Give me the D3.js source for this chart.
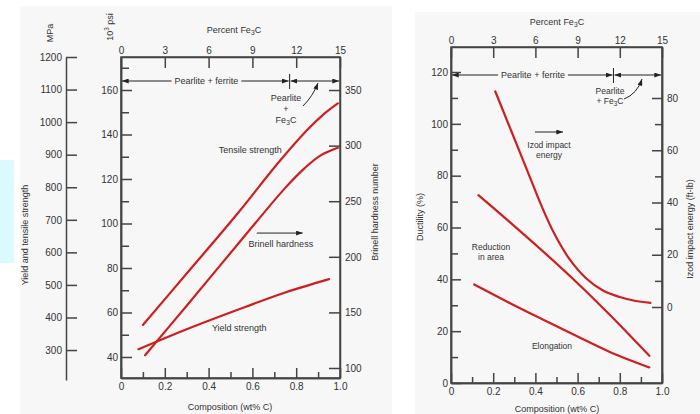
<!DOCTYPE html>
<html>
<head>
<meta charset="utf-8">
<script src="https://cdn.jsdelivr.net/npm/d3@7"></script>
<style>
body { margin: 0; background: #fff; }
svg { display: block; }
text { font-family: "Liberation Sans", Arial, sans-serif; fill: #333; }
</style>
</head>
<body>
<svg id="chart" width="700" height="414"></svg>
<script>
// tick values
var compMajor = [0, 0.2, 0.4, 0.6, 0.8, 1.0];
var compMinor = [0.1, 0.3, 0.5, 0.7, 0.9];
var feTicks = [0, 3, 6, 9, 12, 15];
var ksiMajor = [40, 60, 80, 100, 120, 140, 160];
var ksiMinor = [50, 70, 90, 110, 130, 150, 170];
var mpaTicks = [300, 400, 500, 600, 700, 800, 900, 1000, 1100, 1200];
var hbTicks = [100, 150, 200, 250, 300, 350];
var ductMajor = [0, 20, 40, 60, 80, 100, 120];
var ductMinor = [10, 30, 50, 70, 90, 110];
var izodMajor = [0, 20, 40, 60, 80];
var izodMinor = [10, 30, 50, 70];
var eutectoid = 0.77;

// left chart series (wt% C)
var tensileComp = [0.10, 0.30, 0.52, 0.72, 0.85, 0.93, 0.99];
var tensileKsi = [54.4, 77.5, 103, 127.5, 142, 149.5, 154];
var hardnessComp = [0.11, 0.30, 0.57, 0.75, 0.84, 0.91, 0.99];
var hardnessHB = [111.5, 156, 220, 262, 280, 291, 298];
var yieldComp = [0.08, 0.30, 0.57, 0.75, 0.95];
var yieldKsi = [43.5, 52.5, 62.6, 69, 75];

// right chart series
var izodComp = [0.21, 0.29, 0.37, 0.43, 0.49, 0.56, 0.64, 0.72, 0.80, 0.87, 0.945];
var izodFtlb = [82.5, 66.5, 50.5, 38.5, 28, 18.5, 11, 6.3, 3.8, 2.4, 1.6];
var areaComp = [0.13, 0.28, 0.44, 0.60, 0.75, 0.94];
var areaPct = [72.5, 62, 50.5, 38.5, 26.5, 10.5];
var elongComp = [0.11, 0.28, 0.44, 0.60, 0.75, 0.94];
var elongPct = [38, 30.8, 24.3, 17.9, 12.1, 6];

var axisColor = "#444";
var red = "#cc1f1f";
var panelBg = "#f7f7f7";

var svg = d3.select("#chart");

var defs = svg.append("defs");
defs.append("marker")
    .attr("id", "arr")
    .attr("viewBox", "0 0 8 6")
    .attr("refX", 8).attr("refY", 3)
    .attr("markerWidth", 7).attr("markerHeight", 5)
    .attr("markerUnits", "userSpaceOnUse")
    .attr("orient", "auto-start-reverse")
    .append("path").attr("d", "M0,0 L8,3 L0,6 Z").attr("fill", "#222");

// backgrounds
svg.append("rect").attr("x", 0).attr("y", 160).attr("width", 14).attr("height", 103).attr("fill", "#dbfafd");
svg.append("rect").attr("x", 20).attr("y", 6).attr("width", 372).attr("height", 408).attr("fill", panelBg);
svg.append("rect").attr("x", 415).attr("y", 12).attr("width", 285).attr("height", 402).attr("fill", panelBg);

function styleAxis(g, size) {
  g.select(".domain").attr("stroke", axisColor).attr("stroke-width", 1.5);
  g.selectAll(".tick line").attr("stroke", axisColor).attr("stroke-width", 1.5);
  g.selectAll(".tick text").attr("font-size", size || 10).attr("fill", "#333");
  return g;
}

function curve(g, xs, ys, comp, vals) {
  var pts = comp.map(function(c, i) { return [xs(c), ys(vals[i])]; });
  g.append("path")
    .attr("d", d3.line().curve(d3.curveCatmullRom.alpha(0.5))(pts))
    .attr("fill", "none")
    .attr("stroke", red)
    .attr("stroke-width", 2.2)
    .attr("stroke-linecap", "round");
}

function label(g, x, y, lines, size, gap) {
  lines.forEach(function(t, i) {
    var el = g.append("text")
      .attr("x", x).attr("y", y + i * (gap || 10))
      .attr("text-anchor", "middle")
      .attr("font-size", size || 9);
    addFe3C(el, t);
  });
}

// writes text, turning "Fe3C" into Fe with subscript 3
function addFe3C(el, t) {
  var parts = t.split("Fe3C");
  parts.forEach(function(p, i) {
    if (p) el.append("tspan").text(p);
    if (i < parts.length - 1) {
      el.append("tspan").text("Fe");
      el.append("tspan").text("3").attr("font-size", "0.75em").attr("dy", 2);
      el.append("tspan").text("C").attr("dy", -2);
    }
  });
}

function arrowLine(g, x1, y1, x2, y2, both) {
  var l = g.append("line")
    .attr("x1", x1).attr("y1", y1).attr("x2", x2).attr("y2", y2)
    .attr("stroke", "#222").attr("stroke-width", 1)
    .attr("marker-end", "url(#arr)");
  if (both) l.attr("marker-start", "url(#arr)");
}

function phaseBar(g, xs, y, textX) {
  var t = g.append("text")
    .attr("x", textX).attr("y", y + 3)
    .attr("text-anchor", "middle")
    .attr("font-size", 9)
    .text("Pearlite + ferrite");
  var b = t.node().getBBox();
  arrowLine(g, b.x - 3, y, xs(0) + 1, y);
  arrowLine(g, b.x + b.width + 3, y, xs(eutectoid) - 1, y);
  arrowLine(g, xs(eutectoid) + 1, y, xs(1) - 1, y, true);
  g.append("line")
    .attr("x1", xs(eutectoid)).attr("x2", xs(eutectoid))
    .attr("y1", y - 7).attr("y2", y + 8)
    .attr("stroke", "#222").attr("stroke-width", 1);
}

function curvedArrow(g, x1, y1, cx, cy, x2, y2) {
  g.append("path")
    .attr("d", "M" + x1 + "," + y1 + " Q" + cx + "," + cy + " " + x2 + "," + y2)
    .attr("fill", "none").attr("stroke", "#222").attr("stroke-width", 1)
    .attr("marker-end", "url(#arr)");
}

function rotLabel(g, x, y, size) {
  return g.append("text")
    .attr("transform", "translate(" + x + "," + y + ") rotate(-90)")
    .attr("text-anchor", "middle")
    .attr("font-size", size || 9);
}

var compFormat = function(d) { return d === 0 ? "0" : d3.format(".1f")(d); };

// ---------- left chart ----------
var L = svg.append("g");
var x1 = d3.scaleLinear().domain([0, 1]).range([121, 340]);
var fe1 = d3.scaleLinear().domain([0, 15]).range([121, 340]);
var yKsi = d3.scaleLinear().domain([30.56, 174.83]).range([378, 57]);
var yHB = d3.scaleLinear().domain([91.0, 379.7]).range([378, 57]);
var yMpa = d3.scaleLinear().domain([208, 1200]).range([380, 57]);

L.append("rect").attr("x", 121).attr("y", 57).attr("width", 219).attr("height", 321)
  .attr("fill", "none").attr("stroke", axisColor).attr("stroke-width", 1.5);

styleAxis(L.append("g").attr("transform", "translate(0,378)")
  .call(d3.axisBottom(x1).tickValues(compMajor).tickSize(-10).tickSizeOuter(0).tickPadding(5).tickFormat(compFormat)));
styleAxis(L.append("g").attr("transform", "translate(0,378)")
  .call(d3.axisBottom(x1).tickValues(compMinor).tickSize(-6).tickSizeOuter(0).tickFormat("")));
styleAxis(L.append("g").attr("transform", "translate(0,57)")
  .call(d3.axisTop(fe1).tickValues(feTicks).tickSize(-11).tickSizeOuter(0).tickPadding(3)));
styleAxis(L.append("g").attr("transform", "translate(121,0)")
  .call(d3.axisLeft(yKsi).tickValues(ksiMajor).tickSize(-11).tickSizeOuter(0).tickPadding(3)));
styleAxis(L.append("g").attr("transform", "translate(121,0)")
  .call(d3.axisLeft(yKsi).tickValues(ksiMinor).tickSize(-8).tickSizeOuter(0).tickFormat("")));
styleAxis(L.append("g").attr("transform", "translate(340,0)")
  .call(d3.axisRight(yHB).tickValues(hbTicks).tickSize(-11).tickSizeOuter(0).tickPadding(5)));
styleAxis(L.append("g").attr("transform", "translate(66,0)")
  .call(d3.axisLeft(yMpa).tickValues(mpaTicks).tickSize(-11).tickSizeOuter(0).tickPadding(4).tickFormat(d3.format("d"))));

curve(L, x1, yKsi, tensileComp, tensileKsi);
curve(L, x1, yHB, hardnessComp, hardnessHB);
curve(L, x1, yKsi, yieldComp, yieldKsi);

label(L, x1(0.59), yKsi(131.5), ["Tensile strength"]);
label(L, x1(0.73), yKsi(89.4), ["Brinell hardness"]);
arrowLine(L, x1(0.62), yKsi(95.7), x1(0.83), yKsi(95.7));
label(L, x1(0.54), yKsi(51.7), ["Yield strength"]);
phaseBar(L, x1, 81, x1(0.39));
label(L, 286, 101, ["Pearlite", "+", "Fe3C"], 9, 11);
curvedArrow(L, 303, 106, 313, 96, 318, 83);

addFe3C(L.append("text").attr("x", 234).attr("y", 33).attr("text-anchor", "middle").attr("font-size", 9), "Percent Fe3C");
L.append("text").attr("x", 230).attr("y", 410).attr("text-anchor", "middle").attr("font-size", 9).text("Composition (wt% C)");
rotLabel(L, 28, 235).text("Yield and tensile strength");
rotLabel(L, 53, 33).text("MPa");
var psi = rotLabel(L, 113, 27);
psi.append("tspan").text("10");
psi.append("tspan").text("3").attr("font-size", "0.7em").attr("dy", -4);
psi.append("tspan").text(" psi").attr("dy", 4);
rotLabel(L, 378, 212).text("Brinell hardness number");

// ---------- right chart ----------
var R = svg.append("g");
var x2 = d3.scaleLinear().domain([0, 1]).range([451, 662]);
var fe2 = d3.scaleLinear().domain([0, 15]).range([451, 662]);
var yDuct = d3.scaleLinear().domain([0, 129.65]).range([383, 47]);
var yIzod = d3.scaleLinear().domain([-29.09, 99.52]).range([383, 47]);

R.append("rect").attr("x", 451).attr("y", 47).attr("width", 211).attr("height", 336)
  .attr("fill", "none").attr("stroke", axisColor).attr("stroke-width", 1.5);

styleAxis(R.append("g").attr("transform", "translate(0,383)")
  .call(d3.axisBottom(x2).tickValues(compMajor).tickSize(-10).tickSizeOuter(0).tickPadding(5).tickFormat(compFormat)));
styleAxis(R.append("g").attr("transform", "translate(0,383)")
  .call(d3.axisBottom(x2).tickValues(compMinor).tickSize(-6).tickSizeOuter(0).tickFormat("")));
styleAxis(R.append("g").attr("transform", "translate(0,47)")
  .call(d3.axisTop(fe2).tickValues(feTicks).tickSize(-11).tickSizeOuter(0).tickPadding(3)));
styleAxis(R.append("g").attr("transform", "translate(451,0)")
  .call(d3.axisLeft(yDuct).tickValues(ductMajor).tickSize(-10).tickSizeOuter(0).tickPadding(3)));
styleAxis(R.append("g").attr("transform", "translate(451,0)")
  .call(d3.axisLeft(yDuct).tickValues(ductMinor).tickSize(-7).tickSizeOuter(0).tickFormat("")));
styleAxis(R.append("g").attr("transform", "translate(662,0)")
  .call(d3.axisRight(yIzod).tickValues(izodMajor).tickSize(-10).tickSizeOuter(0).tickPadding(5)));
styleAxis(R.append("g").attr("transform", "translate(662,0)")
  .call(d3.axisRight(yIzod).tickValues(izodMinor).tickSize(-7).tickSizeOuter(0).tickFormat("")));

curve(R, x2, yIzod, izodComp, izodFtlb);
curve(R, x2, yDuct, areaComp, areaPct);
curve(R, x2, yDuct, elongComp, elongPct);

arrowLine(R, 535, 132, 563, 132);
label(R, 549, 148, ["Izod impact", "energy"], 8.5);
label(R, 491, 250, ["Reduction", "in area"], 8.5);
label(R, 552, 349, ["Elongation"], 8.5);
phaseBar(R, x2, 75, 533);
label(R, 610, 94, ["Pearlite", "+ Fe3C"], 8.5);
curvedArrow(R, 624, 99, 637, 94, 642, 79);

addFe3C(R.append("text").attr("x", 557).attr("y", 25).attr("text-anchor", "middle").attr("font-size", 9), "Percent Fe3C");
R.append("text").attr("x", 557).attr("y", 412).attr("text-anchor", "middle").attr("font-size", 9).text("Composition (wt% C)");
rotLabel(R, 423, 217).text("Ductility (%)");
rotLabel(R, 693, 229).text("Izod impact energy (ft-lb)");
</script>
</body>
</html>
